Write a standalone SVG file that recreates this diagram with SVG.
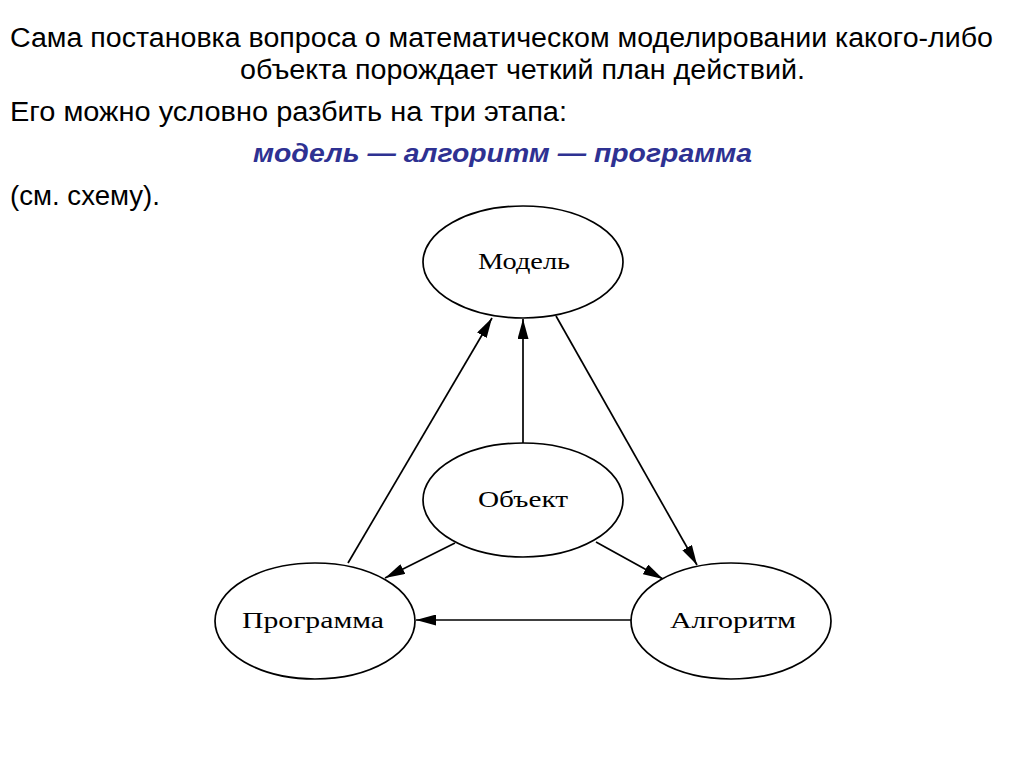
<svg xmlns="http://www.w3.org/2000/svg" width="1024" height="767" viewBox="0 0 1024 767">
<defs>
<style>
.t{font-family:"Liberation Sans",Arial,sans-serif;font-size:27px;fill:#000}
.b{font-family:"Liberation Sans",Arial,sans-serif;font-size:26px;font-weight:bold;font-style:italic;fill:#2e3192}
.n{fill:#fff;stroke:#000;stroke-width:1.7}
.l{font-family:"Liberation Serif","DejaVu Serif",serif;font-size:24px;fill:#000}
.c{stroke:#000;stroke-width:1.7;fill:none;marker-end:url(#ah)}
</style>
<marker id="ah" viewBox="0 0 20 11" refX="20" refY="5.5" markerWidth="20" markerHeight="11" markerUnits="userSpaceOnUse" orient="auto">
<path d="M0,0 L20,5.5 L0,11 Z" fill="#000"/>
</marker>
</defs>
<rect width="1024" height="767" fill="#fff"/>
<g id="text">
<text class="t" x="10" y="47" textLength="983" lengthAdjust="spacingAndGlyphs">Сама постановка вопроса о математическом моделировании какого-либо</text>
<text class="t" x="240" y="79" textLength="565" lengthAdjust="spacingAndGlyphs">объекта порождает четкий план действий.</text>
<text class="t" x="10" y="121" textLength="557" lengthAdjust="spacingAndGlyphs">Его можно условно разбить на три этапа:</text>
<text class="b" x="253" y="162" textLength="499" lengthAdjust="spacingAndGlyphs">модель — алгоритм — программа</text>
<text class="t" x="10" y="205" textLength="150" lengthAdjust="spacingAndGlyphs">(см. схему).</text>
</g>
<g id="connectors">
<line class="c" x1="348" y1="563" x2="492" y2="318"/>
<line class="c" x1="523" y1="443" x2="523" y2="319"/>
<line class="c" x1="556" y1="316" x2="697" y2="565"/>
<line class="c" x1="455" y1="543" x2="385" y2="578"/>
<line class="c" x1="596" y1="542" x2="663" y2="579"/>
<line class="c" x1="631" y1="620" x2="416" y2="620"/>
</g>
<g id="model">
<ellipse class="n" cx="523" cy="262" rx="100" ry="56"/>
<text class="l" x="478" y="269" textLength="92" lengthAdjust="spacingAndGlyphs">Модель</text>
</g>
<g id="object">
<ellipse class="n" cx="523" cy="500" rx="100" ry="57"/>
<text class="l" x="478" y="507" textLength="90" lengthAdjust="spacingAndGlyphs">Объект</text>
</g>
<g id="program">
<ellipse class="n" cx="315" cy="621" rx="100" ry="58"/>
<text class="l" x="242" y="628" textLength="142" lengthAdjust="spacingAndGlyphs">Программа</text>
</g>
<g id="algorithm">
<ellipse class="n" cx="731" cy="621" rx="100" ry="58"/>
<text class="l" x="670" y="628" textLength="126" lengthAdjust="spacingAndGlyphs">Алгоритм</text>
</g>
</svg>
